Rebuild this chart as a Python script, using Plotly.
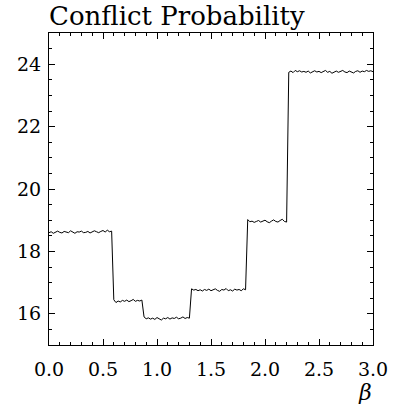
import numpy as np
import plotly.graph_objects as go

# Step levels (x grid every 0.02 from 0.00 to 3.00)
seg1 = [18.60, 18.63, 18.58, 18.62, 18.65, 18.61, 18.59, 18.64, 18.62, 18.60,
        18.66, 18.61, 18.58, 18.63, 18.62, 18.65, 18.60, 18.61, 18.64, 18.59,
        18.62, 18.66, 18.63, 18.60, 18.64, 18.67, 18.62, 18.68, 18.63, 18.65]
seg2 = [16.45, 16.36, 16.41, 16.38, 16.43, 16.40, 16.44, 16.39, 16.42, 16.46,
        16.40, 16.43, 16.41, 16.44]
seg3 = [15.90, 15.84, 15.87, 15.83, 15.86, 15.82, 15.88, 15.85, 15.80, 15.86,
        15.84, 15.88, 15.83, 15.87, 15.85, 15.89, 15.84, 15.86, 15.90, 15.85,
        15.88, 15.86]
seg4 = [16.80, 16.76, 16.78, 16.74, 16.77, 16.73, 16.78, 16.75, 16.79, 16.74,
        16.77, 16.80, 16.75, 16.72, 16.78, 16.76, 16.81, 16.74, 16.77, 16.73,
        16.79, 16.76, 16.78, 16.74, 16.80, 16.77]
seg5 = [19.02, 18.95, 18.97, 18.93, 18.96, 18.99, 18.94, 18.97, 19.00, 18.95,
        18.92, 18.97, 19.01, 18.96, 18.94, 18.99, 19.03, 18.96, 18.94]
seg6 = [23.74, 23.78, 23.73, 23.80, 23.76, 23.79, 23.75, 23.77, 23.74, 23.78,
        23.72, 23.76, 23.79, 23.75, 23.77, 23.73, 23.76, 23.80, 23.74, 23.77,
        23.71, 23.75, 23.78, 23.74, 23.77, 23.80, 23.75, 23.73, 23.78, 23.76,
        23.72, 23.77, 23.79, 23.74, 23.78, 23.76, 23.80, 23.77, 23.79, 23.76]

y_vals = seg1 + seg2 + seg3 + seg4 + seg5 + seg6
beta = list(np.round(np.arange(len(y_vals)) * 0.02, 2))

x_ticks = [0.0, 0.5, 1.0, 1.5, 2.0, 2.5, 3.0]
x_tick_labels = ["0.0", "0.5", "1.0", "1.5", "2.0", "2.5", "3.0"]
y_ticks = [16, 18, 20, 22, 24]
y_tick_labels = ["16", "18", "20", "22", "24"]

FONT = "DejaVu Serif"

fig = go.Figure()
fig.add_trace(go.Scatter(x=beta, y=y_vals, mode="lines",
                         line=dict(color="black", width=1), showlegend=False))

axis_common = dict(
    showgrid=False, zeroline=False, showline=True, linecolor="black", linewidth=1,
    mirror="ticks", ticks="inside", tickcolor="black", tickwidth=1,
    tickfont=dict(family=FONT, size=19, color="black"),
)

fig.update_xaxes(range=[0, 3.0], tickmode="array", tickvals=x_ticks,
                 ticktext=x_tick_labels, ticklen=6, ticklabelstandoff=7,
                 minor=dict(dtick=0.1, ticks="inside", ticklen=3, tickcolor="black", tickwidth=1),
                 **axis_common)
fig.update_yaxes(range=[15, 25], tickmode="array", tickvals=y_ticks,
                 ticktext=y_tick_labels, ticklen=6, ticklabelstandoff=3,
                 minor=dict(dtick=0.5, ticks="inside", ticklen=3, tickcolor="black", tickwidth=1),
                 **axis_common)

fig.update_layout(
    width=400, height=404,
    margin=dict(l=49, r=22, t=33, b=59),
    plot_bgcolor="white", paper_bgcolor="white",
    title=dict(text="Conflict Probability", x=49/400, xanchor="left",
               y=1 - 25/404, yanchor="bottom",
               font=dict(family=FONT, size=26, color="black")),
    annotations=[dict(text="<i>β</i>", xref="paper", yref="paper",
                      x=(370 - 49) / 329, y=0, xanchor="center", yanchor="middle",
                      yshift=-47, showarrow=False,
                      font=dict(family=FONT, size=22, color="black"))],
)

fig.write_html("out.html")
